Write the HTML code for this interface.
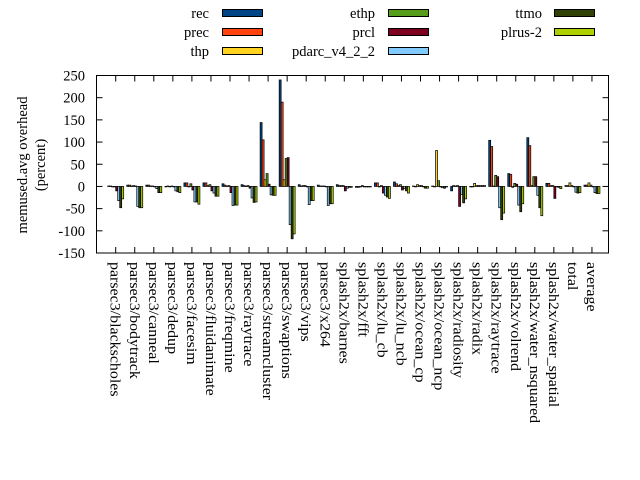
<!DOCTYPE html>
<html><head><meta charset="utf-8"><style>
html,body{margin:0;padding:0;background:#fff;}
svg{display:block;font-family:"Liberation Serif",serif;}
</style></head><body>
<svg id="s" width="640" height="480" xmlns="http://www.w3.org/2000/svg">
<g font-size="14.5" fill="#000">
<text x="209" y="18" text-anchor="end">rec</text>
<text x="209" y="37" text-anchor="end">prec</text>
<text x="209" y="56" text-anchor="end">thp</text>
<text x="375" y="18" text-anchor="end">ethp</text>
<text x="375" y="37" text-anchor="end">prcl</text>
<text x="375" y="56" text-anchor="end">pdarc_v4_2_2</text>
<text x="542" y="18" text-anchor="end">ttmo</text>
<text x="542" y="37" text-anchor="end">plrus-2</text>
</g>
<g stroke="#000" stroke-width="1">
<rect x="222.5" y="9.5" width="40" height="7" fill="#004586"/>
<rect x="222.5" y="28.5" width="40" height="7" fill="#ff420e"/>
<rect x="222.5" y="47.5" width="40" height="7" fill="#ffd320"/>
<rect x="388.5" y="9.5" width="40" height="7" fill="#579d1c"/>
<rect x="388.5" y="28.5" width="40" height="7" fill="#7e0021"/>
<rect x="388.5" y="47.5" width="40" height="7" fill="#83caff"/>
<rect x="554.5" y="9.5" width="40" height="7" fill="#314004"/>
<rect x="554.5" y="28.5" width="40" height="7" fill="#aecf00"/>
</g>
<g font-size="14.5" text-anchor="middle">
<text transform="translate(27,165) rotate(-90)">memused.avg overhead</text>
<text transform="translate(45,165) rotate(-90)">(percent)</text>
</g>
<g id="plot"></g>
</svg>
<script>
var P=document.getElementById('plot'),NS='http://www.w3.org/2000/svg';
function el(t,a,txt){var e=document.createElementNS(NS,t);for(var k in a)e.setAttribute(k,a[k]);if(txt!=null)e.textContent=txt;P.appendChild(e);return e;}
var L=96.5,R=608.5,T=75.5,B=253,z=function(v){return T+(250-v)*(B-T)/400;};
var cols=['#004586','#ff420e','#ffd320','#579d1c','#7e0021','#83caff','#314004','#aecf00'];
var names=['parsec3/blackscholes','parsec3/bodytrack','parsec3/canneal','parsec3/dedup','parsec3/facesim','parsec3/fluidanimate','parsec3/freqmine','parsec3/raytrace','parsec3/streamcluster','parsec3/swaptions','parsec3/vips','parsec3/x264','splash2x/barnes','splash2x/fft','splash2x/lu_cb','splash2x/lu_ncb','splash2x/ocean_cp','splash2x/ocean_ncp','splash2x/radiosity','splash2x/radix','splash2x/raytrace','splash2x/volrend','splash2x/water_nsquared','splash2x/water_spatial','total','average'];
var D=[[1,1,0,0,-10,-32,-48,-28],[3,3,1,2,1,-45,-48,-48],[3,3,1,1,0,-5,-14,-14],[0,1,0,1,0,-10,-12,-14],[8,8,0,6,-8,-35,-35,-40],[8,8,2,4,-10,-15,-22,-22],[6,3,1,2,-14,-43,-42,-42],[4,2,1,2,-4,-26,-36,-35],[144,105,15,29,5,-19,-20,-20],[240,190,15,63,65,-86,-118,-107],[4,1,2,2,0,-41,-32,-32],[3,1,1,1,0,-43,-39,-39],[4,2,2,2,-10,-4,-2,-2],[-2,-2,0,2,0,0,0,0],[8,8,0,2,-15,-20,-24,-27],[10,6,2,4,-8,-5,-10,-15],[1,0,4,2,2,0,-4,-4],[1,0,81,13,0,-3,-4,-1],[-10,2,1,2,-45,-18,-37,-28],[0,0,7,2,2,2,2,2],[104,90,1,25,22,-48,-75,-60],[29,27,-2,7,5,-42,-57,-39],[110,92,2,22,22,-20,-48,-66],[7,7,2,2,-27,-1,-2,-5],[2,2,8,2,0,-13,-15,-14],[3,3,8,3,0,-14,-16,-16]];
for(var v=-150;v<=250;v+=50){var y=z(v);el('line',{x1:L,x2:L+6,y1:y,y2:y,stroke:'#000'});el('line',{x1:R,x2:R-6,y1:y,y2:y,stroke:'#000'});
el('text',{x:85,y:y+5,'text-anchor':'end','font-size':'14.5'},v);}
var z0=z(0);
for(var i=0;i<26;i++){var tx=115.7+i*19.05;
el('line',{x1:tx,x2:tx,y1:T,y2:T+6,stroke:'#000'});el('line',{x1:tx,x2:tx,y1:B,y2:B-6,stroke:'#000'});
for(var j=0;j<8;j++){var v=D[i][j],x=tx-8+j*2,y1=Math.min(z(v),z0),h=Math.abs(z(v)-z0);
el('rect',{x:x,y:y1,width:2,height:Math.max(h,0.5),fill:cols[j],stroke:'#000','stroke-width':'0.7'});}
el('text',{transform:'translate('+(tx-5)+',262) rotate(90) scale(1.1,1)','font-size':'14.5'},names[i]);}
el('rect',{x:L,y:T,width:R-L,height:B-T,fill:'none',stroke:'#000','stroke-width':'1'});
</script>
</body></html>
